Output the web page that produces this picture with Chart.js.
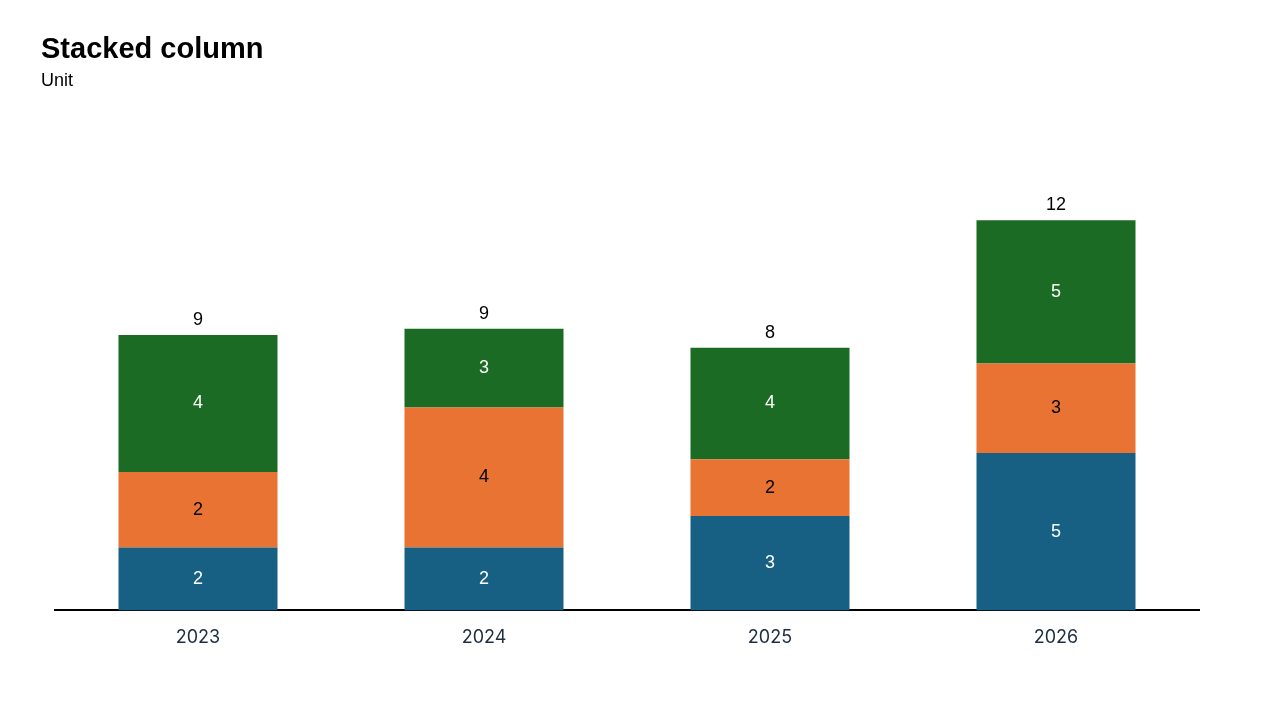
<!DOCTYPE html>
<html>
<head>
<meta charset="utf-8">
<style>
  html, body { margin: 0; padding: 0; background: #ffffff; }
  #wrap { width: 1280px; height: 720px; }
</style>
<script src="https://cdn.jsdelivr.net/npm/chart.js@4/dist/chart.umd.min.js"></script>
</head>
<body>
<div id="wrap"><canvas id="c" width="1280" height="720"></canvas></div>
<script>
const categories = ['2023', '2024', '2025', '2026'];
const seriesBlue = [2.0, 2.0, 3.0, 5.0];
const seriesOrange = [2.4, 4.45, 1.8, 2.85];
const seriesGreen = [4.35, 2.5, 3.55, 4.55];
const titleText = 'Stacked column';
const subtitleText = 'Unit';

const labelPlugin = {
  id: 'stackLabels',
  afterDatasetsDraw(chart) {
    const ctx = chart.ctx;
    ctx.save();
    ctx.textAlign = 'center';
    ctx.textBaseline = 'middle';
    ctx.font = '18px "Liberation Sans", Arial, sans-serif';
    chart.data.datasets.forEach((ds, di) => {
      const meta = chart.getDatasetMeta(di);
      meta.data.forEach((bar, i) => {
        const v = ds.data[i];
        const y = (bar.y + bar.base) / 2;
        ctx.fillStyle = ds.labelColor;
        ctx.fillText(String(Math.round(v)), bar.x, y);
      });
    });
    const lastMeta = chart.getDatasetMeta(chart.data.datasets.length - 1);
    lastMeta.data.forEach((bar, i) => {
      let total = 0;
      chart.data.datasets.forEach(ds => { total += ds.data[i]; });
      ctx.fillStyle = '#000000';
      ctx.fillText(String(Math.round(total)), bar.x, bar.y - 15);
    });
    ctx.restore();
  }
};

new Chart(document.getElementById('c'), {
  type: 'bar',
  data: {
    labels: categories,
    datasets: [
      { label: 'A', data: seriesBlue, backgroundColor: '#176083', labelColor: '#ffffff' },
      { label: 'B', data: seriesOrange, backgroundColor: '#e97332', labelColor: '#000000' },
      { label: 'C', data: seriesGreen, backgroundColor: '#1b6b24', labelColor: '#ffffff' }
    ]
  },
  options: {
    responsive: false,
    animation: false,
    devicePixelRatio: 1,
    layout: { padding: { left: 41, right: 81, top: 0, bottom: 56 } },
    datasets: { bar: { categoryPercentage: 1, barPercentage: 0.556, borderWidth: 0 } },
    plugins: {
      legend: { display: false },
      tooltip: { enabled: false },
      title: {
        display: true, text: titleText, align: 'start', color: '#000000',
        font: { family: '"Liberation Sans", Arial, sans-serif', size: 29, weight: 'bold' },
        padding: { top: 33, bottom: 2 }
      },
      subtitle: {
        display: true, text: subtitleText, align: 'start', color: '#000000',
        font: { family: '"Liberation Sans", Arial, sans-serif', size: 18 },
        padding: { top: 0, bottom: 47 }
      }
    },
    scales: {
      x: {
        stacked: true,
        grid: { display: false, drawTicks: false },
        border: { display: true, color: '#000000', width: 2 },
        ticks: { color: '#1e2d40', padding: 16, font: { family: 'Inter, sans-serif', size: 18 } }
      },
      y: {
        stacked: true,
        min: 0, max: 15,
        grid: { display: false, drawTicks: false },
        border: { display: false },
        ticks: { display: false },
        afterFit: s => { s.width = 14; }
      }
    }
  },
  plugins: [labelPlugin]
});
</script>
</body>
</html>
